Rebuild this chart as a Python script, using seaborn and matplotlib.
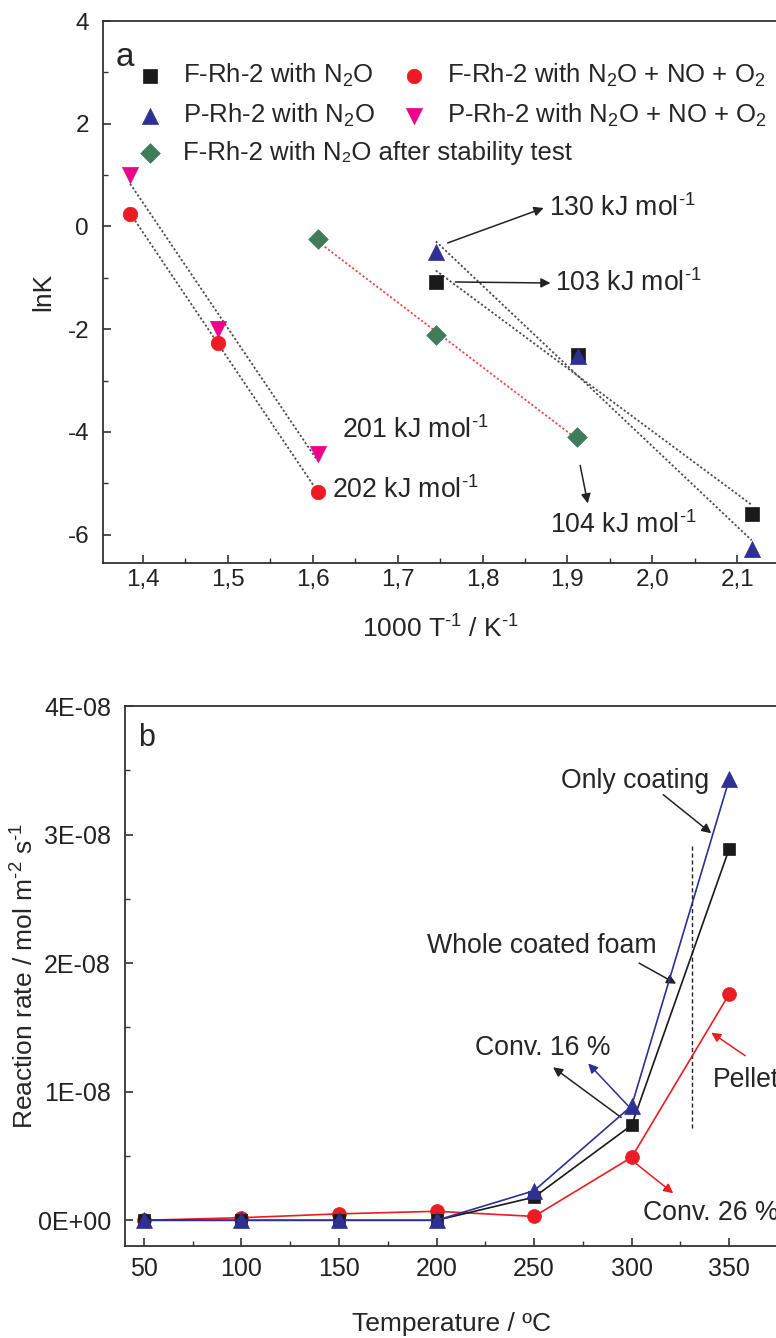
import numpy as np
import pandas as pd
import matplotlib
matplotlib.use("Agg")
import matplotlib.pyplot as plt
from matplotlib.ticker import MultipleLocator, FuncFormatter
import seaborn as sns

# ---------------- data: Arrhenius plot (a) ----------------
inv_T_foam = [1.745, 1.912, 2.117]          # 1000/T, K^-1
lnk_F_N2O = [-1.08, -2.50, -5.60]
lnk_P_N2O = [-0.50, -2.52, -6.28]

inv_T_mix = [1.385, 1.488, 1.606]
lnk_F_mix = [0.25, -2.26, -5.17]
lnk_P_mix = [1.00, -2.00, -4.42]

inv_T_stab = [1.606, 1.745, 1.911]
lnk_F_stab = [-0.25, -2.12, -4.10]

# ---------------- data: reaction rate vs temperature (b) ----------------
temperature = [50, 100, 150, 200, 250, 300, 350]           # deg C
rate_whole_foam = [0.0, 0.0, 0.0, 0.0, 1.8e-9, 7.4e-9, 2.89e-8]
rate_only_coating = [0.0, 0.0, 0.0, 0.0, 2.3e-9, 8.9e-9, 3.43e-8]
rate_pellet = [0.0, 2.0e-10, 5.0e-10, 7.0e-10, 3.0e-10, 4.9e-9, 1.76e-8]

FONT = ["Liberation Sans", "DejaVu Sans"]
sns.set_style("ticks")
plt.rcParams["font.family"] = FONT
plt.rcParams["mathtext.fontset"] = "custom"
plt.rcParams["mathtext.rm"] = "Liberation Sans"
plt.rcParams["mathtext.it"] = "Liberation Sans:italic"
plt.rcParams["mathtext.default"] = "regular"
plt.rcParams["axes.edgecolor"] = "#333333"
plt.rcParams["axes.linewidth"] = 1.3

C_BLACK = "#1a1a1a"
C_BLUE = "#2e3192"
C_RED = "#ed1c24"
C_MAGENTA = "#ec008c"
C_GREEN = "#3f7d5a"
LEG = 18.5
ANN = 19.2
LAB = 19
HY = "\u2010"        # typographic hyphen used in the unit exponents
INV = f"$^{{{HY}1}}$"

W, H = 776, 1338
fig = plt.figure(figsize=(W / 100, H / 100), dpi=100)


def px_axes(left, top, right, bottom):
    return [left / W, 1 - bottom / H, (right - left) / W, (bottom - top) / H]


def style_axis(ax, size, xpad, ypad):
    ax.tick_params(which="both", direction="in", top=False, right=False,
                   labelsize=size, colors="#333333", labelcolor="#222222")
    ax.tick_params(which="major", length=6, width=1.2)
    ax.tick_params(which="minor", length=3.5, width=1.0)
    ax.tick_params(axis="x", which="major", pad=xpad)
    ax.tick_params(axis="y", which="major", pad=ypad)
    for s in ax.spines.values():
        s.set_visible(True)
        s.set_color("#333333")


# ================= panel a =================
ax = fig.add_axes(px_axes(103, 21, 778, 563))

fits = [
    (inv_T_foam, lnk_F_N2O, "0.3"),
    (inv_T_foam, lnk_P_N2O, "0.3"),
    (inv_T_mix, lnk_F_mix, "0.3"),
    (inv_T_mix, lnk_P_mix, "0.3"),
    (inv_T_stab, lnk_F_stab, "#f04848"),
]
for xs, ys, col in fits:
    sns.regplot(x=np.array(xs), y=np.array(ys), ax=ax, scatter=False, ci=None,
                line_kws=dict(ls=(0, (1.2, 1.2)), color=col, lw=1.3))

series_a = [
    (inv_T_foam, lnk_F_N2O, "s", C_BLACK, "F-Rh-2 with N$_2$O", 95),
    (inv_T_foam, lnk_P_N2O, "^", C_BLUE, "P-Rh-2 with N$_2$O", 135),
    (inv_T_stab, lnk_F_stab, "D", C_GREEN, "F-Rh-2 with N₂O after stability test", 100),
    (inv_T_mix, lnk_F_mix, "o", C_RED, "F-Rh-2 with N$_2$O + NO + O$_2$", 110),
    (inv_T_mix, lnk_P_mix, "v", C_MAGENTA, "P-Rh-2 with N$_2$O + NO + O$_2$", 135),
]
for xs, ys, mk, col, lab, sz in series_a:
    sns.scatterplot(x=xs, y=ys, ax=ax, marker=mk, color=col, s=sz,
                    edgecolor=col, linewidth=0.5, label=lab, zorder=5)

ax.set_xlim(1.353, 2.148)
ax.set_ylim(-6.55, 4)
ax.xaxis.set_major_locator(MultipleLocator(0.1))
ax.xaxis.set_minor_locator(MultipleLocator(0.05))
ax.yaxis.set_major_locator(MultipleLocator(2))
ax.yaxis.set_minor_locator(MultipleLocator(1))
ax.xaxis.set_major_formatter(FuncFormatter(lambda v, p: f"{v:.1f}".replace(".", ",")))
ax.yaxis.set_major_formatter(FuncFormatter(lambda v, p: f"{v:.0f}"))
style_axis(ax, 17.5, 4, 10)
ax.set_xlabel(f"1000 T{INV} / K{INV}", fontsize=LAB, labelpad=18)
ax.set_ylabel("lnK", fontsize=LAB, labelpad=9)

# legend in two independent columns
handles, labels = ax.get_legend_handles_labels()
leg_kw = dict(loc="upper left", frameon=False, fontsize=LEG, handletextpad=0.9,
              labelspacing=0.47, borderaxespad=0, borderpad=0, handlelength=0.8)
leg1 = ax.legend(handles[:3], labels[:3], bbox_to_anchor=(0.0544, 0.924), **leg_kw)
ax.add_artist(leg1)
ax.legend(handles[3:], labels[3:], bbox_to_anchor=(0.4455, 0.924), **leg_kw)

ax.text(1.368, 3.28, "a", fontsize=24, va="center", ha="left")

arrow_k = dict(arrowstyle="-|>", color="#222222", lw=1.1, mutation_scale=14,
               shrinkA=0, shrinkB=0)
ax.annotate("", xy=(1.872, 0.36), xytext=(1.759, -0.32), arrowprops=arrow_k)
ax.text(1.878, 0.36, f"130 kJ mol{INV}", fontsize=ANN, va="center")
ax.annotate("", xy=(1.880, -1.10), xytext=(1.768, -1.08), arrowprops=arrow_k)
ax.text(1.885, -1.10, f"103 kJ mol{INV}", fontsize=ANN, va="center")
ax.text(1.635, -3.97, f"201 kJ mol{INV}", fontsize=ANN, va="center")
ax.text(1.623, -5.14, f"202 kJ mol{INV}", fontsize=ANN, va="center")
ax.annotate("", xy=(1.924, -5.39), xytext=(1.915, -4.65), arrowprops=arrow_k)
ax.text(1.880, -5.82, f"104 kJ mol{INV}", fontsize=ANN, va="center")

# ================= panel b =================
bx = fig.add_axes(px_axes(125, 706, 778, 1246))

df_b = pd.DataFrame({
    "T": temperature * 3,
    "rate": rate_pellet + rate_whole_foam + rate_only_coating,
    "kind": ["Pellet"] * 7 + ["Whole coated foam"] * 7 + ["Only coating"] * 7,
})
styles_b = [("Pellet", C_RED, "o", 10), ("Whole coated foam", C_BLACK, "s", 9),
            ("Only coating", C_BLUE, "^", 11)]
for kind, col, mk, ms in styles_b:
    sub = df_b[df_b["kind"] == kind]
    sns.lineplot(data=sub, x="T", y="rate", ax=bx, color=col, lw=1.2,
                 marker=mk, markersize=ms, markeredgecolor=col,
                 markeredgewidth=0.5, legend=False, zorder=4)

bx.set_xlim(40.3, 375)
bx.set_ylim(-2e-9, 4e-8)
bx.xaxis.set_major_locator(MultipleLocator(50))
bx.xaxis.set_minor_locator(MultipleLocator(25))
bx.yaxis.set_major_locator(MultipleLocator(1e-8))
bx.yaxis.set_minor_locator(MultipleLocator(5e-9))


def sci_fmt(v, p):
    if abs(v) < 1e-15:
        return "0E+00"
    m, e = f"{v:.0E}".split("E")
    return f"{m}E{e}"


bx.yaxis.set_major_formatter(FuncFormatter(sci_fmt))
bx.xaxis.set_major_formatter(FuncFormatter(lambda v, p: f"{v:.0f}"))
style_axis(bx, 18, 8, 10)
bx.set_xlabel("Temperature / ºC", fontsize=LAB, labelpad=22)
bx.set_ylabel(f"Reaction rate / mol m$^{{{HY}2}}$ s{INV}", fontsize=LAB, labelpad=-0.5)

bx.text(47, 3.75e-8, "b", fontsize=22, va="center", ha="left")

bx.vlines(331, 0.72e-8, 2.91e-8, colors="#222222", linestyles=(0, (3, 2)), lw=1.0)

bx.text(263.8, 3.42e-8, "Only coating", fontsize=ANN, va="center")
bx.annotate("", xy=(340.8, 3.01e-8), xytext=(316.2, 3.31e-8), arrowprops=arrow_k)
bx.text(195.1, 2.13e-8, "Whole coated foam", fontsize=ANN, va="center")
bx.annotate("", xy=(322.8, 1.84e-8), xytext=(303.8, 2.0e-8), arrowprops=arrow_k)
bx.text(219.7, 1.34e-8, "Conv. 16 %", fontsize=ANN, va="center")
bx.annotate("", xy=(259.7, 1.19e-8), xytext=(294.6, 0.80e-8), arrowprops=arrow_k)
arrow_b = dict(arrow_k, color=C_BLUE)
bx.annotate("", xy=(277.7, 1.22e-8), xytext=(298.2, 0.89e-8), arrowprops=arrow_b)
arrow_r = dict(arrow_k, color=C_RED)
bx.text(341.8, 1.09e-8, "Pellet", fontsize=ANN, va="center")
bx.annotate("", xy=(340.8, 1.46e-8), xytext=(358.2, 1.28e-8), arrowprops=arrow_r)
bx.text(305.9, 0.06e-8, "Conv. 26 %", fontsize=ANN, va="center")
bx.annotate("", xy=(321.3, 0.21e-8), xytext=(302.3, 0.44e-8), arrowprops=arrow_r)

fig.savefig("out.png", dpi=100)
